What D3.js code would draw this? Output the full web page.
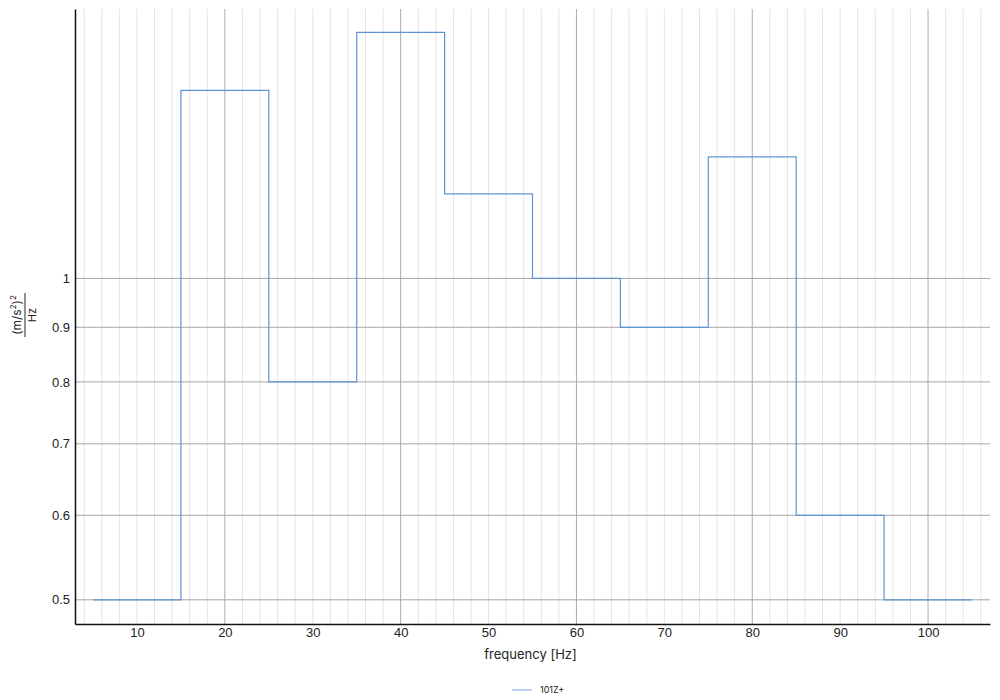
<!DOCTYPE html>
<html>
<head>
<meta charset="utf-8">
<script src="https://cdn.jsdelivr.net/npm/d3@7"></script>
<style>
  body { margin: 0; background: #fff; }
  svg { font-family: Inter, "Noto Sans", sans-serif; }
  .axis path { stroke: #111; stroke-width: 1.5; }
  .axis text { font-size: 13px; fill: #222; }
</style>
</head>
<body>
<div id="chart"></div>
<script>
// band centres [Hz] and psd values, one value per 10 Hz band
const freqs = [10, 20, 30, 40, 50, 60, 70, 80, 90, 100];
const psd = [0.5, 1.5, 0.8, 1.7, 1.2, 1.0, 0.9, 1.3, 0.6, 0.5];
const bandWidth = 10;
const xTicks = [10, 20, 30, 40, 50, 60, 70, 80, 90, 100];
const yTicks = [0.5, 0.6, 0.7, 0.8, 0.9, 1];
const seriesName = "101Z+";

const width = 1000;
const height = 700;
const plotLeft = 75, plotRight = 990, plotTop = 9, plotBottom = 624;

const svg = d3.select("#chart")
    .append("svg")
    .attr("width", width)
    .attr("height", height);

//----------------------------SCALES----------------------------//
const xScale = d3.scaleLinear().domain([2.95, 107.05]).range([plotLeft, plotRight]);
const yScale = d3.scaleLog().domain([0.4746, 1.788]).range([plotBottom, plotTop]);

//----------------------------GRID------------------------------//
const minor = d3.range(4, 107, 2).filter(function(d) { return d % 20 !== 0; });
const major = d3.range(20, 107, 20);

svg.append("g").selectAll("line")
    .data(minor)
    .enter().append("line")
    .attr("x1", function(d) { return xScale(d); })
    .attr("x2", function(d) { return xScale(d); })
    .attr("y1", plotTop).attr("y2", plotBottom)
    .attr("stroke", "#e4e4e4");

svg.append("g").selectAll("line")
    .data(major)
    .enter().append("line")
    .attr("x1", function(d) { return xScale(d); })
    .attr("x2", function(d) { return xScale(d); })
    .attr("y1", plotTop).attr("y2", plotBottom)
    .attr("stroke", "#ababab");

svg.append("g").selectAll("line")
    .data(yTicks)
    .enter().append("line")
    .attr("x1", plotLeft).attr("x2", plotRight)
    .attr("y1", function(d) { return yScale(d); })
    .attr("y2", function(d) { return yScale(d); })
    .attr("stroke", "#a6a6a6");

//-----------------------------AXES-----------------------------//
svg.append("g")
    .attr("class", "axis")
    .attr("transform", "translate(0," + plotBottom + ")")
    .call(d3.axisBottom(xScale).tickValues(xTicks).tickSize(0).tickPadding(4));

svg.append("g")
    .attr("class", "axis")
    .attr("transform", "translate(" + plotLeft + ",0)")
    .call(d3.axisLeft(yScale).tickValues(yTicks).tickSize(0).tickPadding(5)
        .tickFormat(d3.format("")));

svg.append("text")
    .attr("x", (plotLeft + plotRight) / 2 - 2)
    .attr("y", 659)
    .attr("text-anchor", "middle")
    .style("font-size", "13px")
    .style("fill", "#222")
    .text("frequency [Hz]");

// y label as a fraction (m/s²)² / Hz
const ylab = svg.append("g")
    .attr("transform", "translate(25,315) rotate(-90)")
    .style("fill", "#222");
const num = ylab.append("text")
    .attr("y", -4)
    .attr("text-anchor", "middle")
    .style("font-size", "12px");
num.append("tspan").text("(m/s");
num.append("tspan").attr("dy", -5).style("font-size", "8px").text("2");
num.append("tspan").attr("dy", 5).text(")");
num.append("tspan").attr("dy", -5).style("font-size", "8px").text("2");
ylab.append("line")
    .attr("x1", -22).attr("x2", 22)
    .attr("stroke", "#222").attr("stroke-width", 1);
ylab.append("text")
    .attr("y", 11)
    .attr("text-anchor", "middle")
    .style("font-size", "11px")
    .text("Hz");

//----------------------------LINE------------------------------//
const steps = [];
freqs.forEach(function(f, i) {
    steps.push({ f: f - bandWidth / 2, v: psd[i] });
    steps.push({ f: f + bandWidth / 2, v: psd[i] });
});

const line = d3.line()
    .x(function(d) { return xScale(d.f); })
    .y(function(d) { return yScale(d.v); });

svg.append("path")
    .datum(steps)
    .attr("d", line)
    .attr("fill", "none")
    .attr("stroke", "#5d95d4")
    .attr("stroke-width", 1.2);

//---------------------------LEGEND-----------------------------//
svg.append("line")
    .attr("x1", 512).attr("x2", 532)
    .attr("y1", 690).attr("y2", 690)
    .attr("stroke", "#a3c4e8")
    .attr("stroke-width", 1.5);
svg.append("text")
    .attr("x", 540)
    .attr("y", 693)
    .style("font-size", "9px")
    .style("fill", "#222")
    .text(seriesName);
</script>
</body>
</html>
